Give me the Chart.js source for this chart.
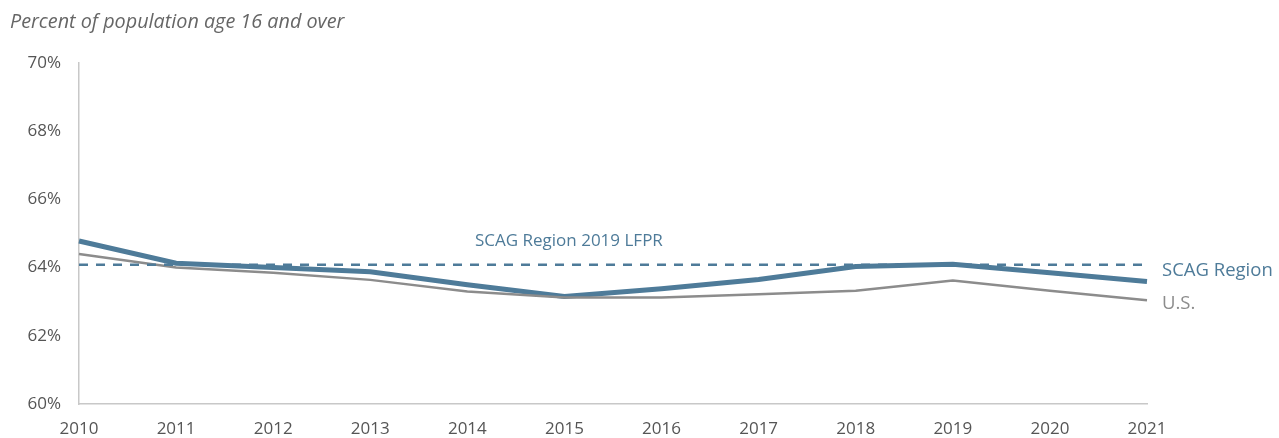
<!DOCTYPE html>
<html>
<head>
<meta charset="utf-8">
<script src="https://cdn.jsdelivr.net/npm/chart.js@4/dist/chart.umd.min.js"></script>
<style>
  html, body { margin: 0; padding: 0; background: #fff; }
  #wrap { width: 1279px; height: 438px; position: relative; }
</style>
</head>
<body>
<div id="wrap"><canvas id="c" width="1279" height="438"></canvas></div>
<script>
// labour force participation rate, % of pop age 16+
const years = ["2010","2011","2012","2013","2014","2015","2016","2017","2018","2019","2020","2021"];
const scagRegion = [64.78, 64.13, 64.0, 63.88, 63.5, 63.15, 63.38, 63.65, 64.03, 64.1, 63.85, 63.59];
const usRate = [64.4, 64.0, 63.85, 63.64, 63.3, 63.12, 63.12, 63.22, 63.32, 63.62, 63.32, 63.04];
const lfpr2019 = 64.08;
const yTicks = [60, 62, 64, 66, 68, 70];

const blue = "#4e7b99";
const grey = "#8c8c8c";
const font = "'Open Sans', 'Noto Sans', sans-serif";

const labelsPlugin = {
  id: "labels",
  afterDraw(chart) {
    const ctx = chart.ctx;
    const x = chart.scales.x, y = chart.scales.y;
    ctx.save();
    ctx.fillStyle = "#666";
    ctx.font = "italic 19.8px " + font;
    ctx.textBaseline = "middle";
    ctx.textAlign = "left";
    ctx.fillText("Percent of population age 16 and over", 10, 22);

    const last = years.length - 1;
    const xe = x.getPixelForValue(last) + 15;
    ctx.font = "18.5px " + font;
    ctx.fillStyle = blue;
    ctx.fillText("SCAG Region", xe, y.getPixelForValue(scagRegion[last]) - 11);
    ctx.fillStyle = grey;
    ctx.fillText("U.S.", xe, y.getPixelForValue(usRate[last]) + 3);

    ctx.font = "17px " + font;
    ctx.fillStyle = blue;
    ctx.fillText("SCAG Region 2019 LFPR", 475, y.getPixelForValue(lfpr2019) - 24);
    ctx.restore();
  }
};

new Chart(document.getElementById("c"), {
  type: "line",
  data: {
    labels: years,
    datasets: [
      {
        label: "SCAG Region 2019 LFPR",
        data: years.map(() => lfpr2019),
        borderColor: blue,
        borderWidth: 2.5,
        borderDash: [9, 8],
        pointRadius: 0,
        tension: 0
      },
      {
        label: "U.S.",
        data: usRate,
        borderColor: grey,
        borderWidth: 2.5,
        pointRadius: 0,
        tension: 0
      },
      {
        label: "SCAG Region",
        data: scagRegion,
        borderColor: blue,
        borderWidth: 5,
        pointRadius: 0,
        tension: 0
      }
    ]
  },
  options: {
    responsive: false,
    animation: false,
    events: [],
    layout: { padding: { top: 63, right: 132, left: 0, bottom: 0 } },
    plugins: { legend: { display: false }, tooltip: { enabled: false } },
    scales: {
      x: {
        offset: false,
        grid: { display: false, drawTicks: false },
        border: { color: "#c8c8c8", width: 1.5 },
        ticks: { color: "#555", font: { family: font, size: 17 }, padding: 15, maxRotation: 0, autoSkip: false },
        afterFit(s) { s.height = 34; }
      },
      y: {
        min: 60,
        max: 70,
        grid: { display: false, drawTicks: false },
        border: { color: "#c8c8c8", width: 1.5 },
        afterBuildTicks(s) { s.ticks = yTicks.map(v => ({ value: v })); },
        ticks: {
          color: "#555",
          font: { family: font, size: 17 },
          padding: 18,
          callback: v => v + "%"
        },
        afterFit(s) { s.width = 79; }
      }
    }
  },
  plugins: [labelsPlugin]
});
</script>
</body>
</html>
